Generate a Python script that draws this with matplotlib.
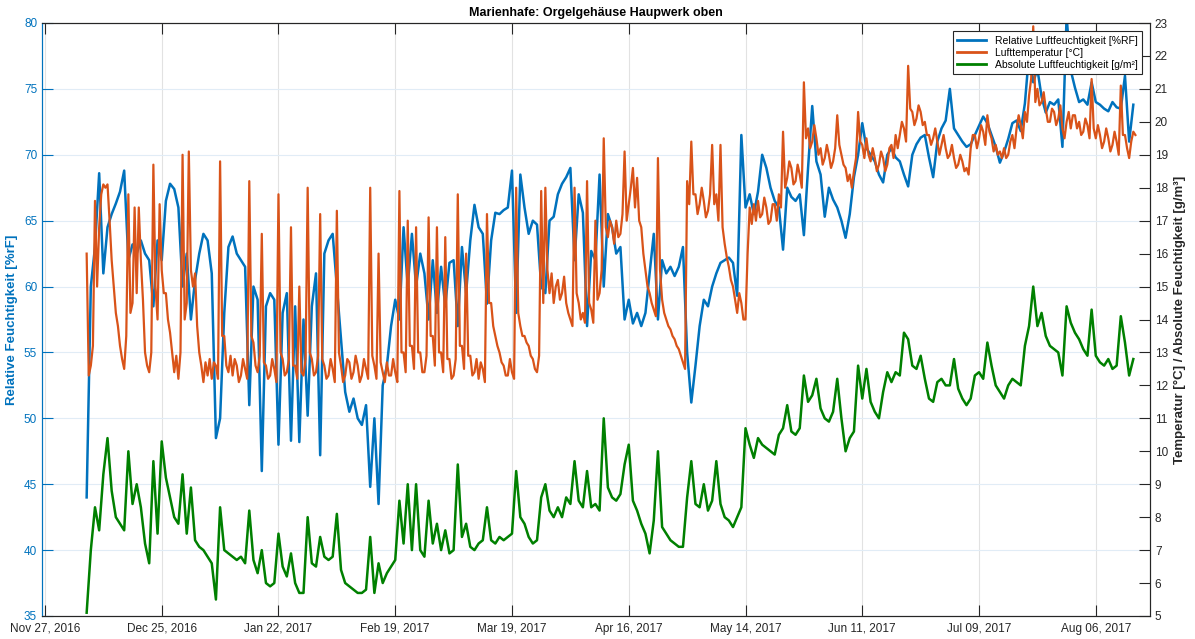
import pandas as pd
import matplotlib
matplotlib.use("Agg")
import matplotlib.pyplot as plt
import matplotlib.dates as mdates
from matplotlib.lines import Line2D

plt.rcParams['font.family'] = ['Liberation Sans', 'DejaVu Sans']

# first reading
start_date = "2016-12-07"

# Relative Luftfeuchtigkeit [%RF], one value per day
rh_values = [
    44.0, 60.0, 63.0, 68.6, 61.0, 64.5, 65.5, 66.3, 67.2, 68.8,
    62.0, 63.2, 62.5, 63.5, 62.5, 62.0, 58.5, 63.5, 62.0, 66.5,
    67.8, 67.4, 66.0, 60.0, 62.5, 57.5, 60.5, 62.5, 64.0, 63.5,
    61.0, 48.5, 50.0, 58.0, 63.0, 63.8, 62.5, 62.0, 61.5, 51.0,
    60.0, 59.0, 46.0, 58.5, 59.5, 59.0, 48.0, 58.0, 59.5, 48.3,
    58.5, 48.2, 57.5, 50.2, 58.5, 61.0, 47.2, 62.5, 63.5, 64.0,
    60.0, 56.0, 52.0, 50.5, 51.5, 50.0, 49.5, 51.0, 44.8, 50.0,
    43.5, 52.5, 54.0, 57.0, 59.0, 57.5, 64.5, 60.0, 64.0, 60.0,
    62.5, 61.0, 57.5, 62.0, 58.0, 61.5, 58.5, 61.8, 62.0, 57.0,
    63.0, 59.5, 63.5, 66.2, 64.5, 64.0, 58.7, 63.5, 65.6, 65.5,
    65.8, 66.0, 68.8, 58.0, 68.5, 66.0, 64.0, 65.0, 64.7, 60.0,
    59.5, 65.0, 65.3, 67.0, 67.8, 68.3, 69.0, 62.0, 67.0, 65.6,
    57.0, 62.7, 62.0, 68.5, 60.0, 65.5, 64.5, 62.5, 63.0, 57.5,
    59.0, 57.2, 58.0, 57.0, 58.0, 61.0, 64.0, 57.5, 62.0, 61.0,
    61.5, 60.8, 61.5, 63.0, 55.0, 51.2, 54.0, 57.0, 59.0, 58.5,
    60.0, 61.0, 61.8, 62.0, 62.2, 61.8, 59.3, 71.5, 66.0, 67.0,
    65.5, 67.2, 70.0, 69.0, 67.5, 66.5, 66.0, 62.8, 67.5, 66.8,
    66.5, 67.0, 63.9, 69.0, 73.7, 69.5, 68.5, 65.3, 67.5, 66.6,
    66.0, 65.0, 63.7, 65.5, 68.3, 70.0, 72.4, 70.5, 70.0, 69.5,
    68.5, 67.9, 70.0, 70.5, 69.8, 69.5, 68.5, 67.6, 70.0, 70.8,
    71.3, 71.5, 69.8, 68.3, 71.0, 72.0, 72.6, 75.0, 72.0, 71.5,
    71.0, 70.6, 70.8, 71.5, 72.2, 72.9, 72.4, 71.5, 70.6, 69.4,
    70.2, 71.2, 72.4, 72.6, 71.8, 73.9, 77.7, 75.5, 76.5, 74.4,
    73.2, 74.0, 73.8, 74.2, 70.6, 80.5, 76.4, 75.1, 74.0, 74.2,
    73.8, 75.5, 74.0, 73.8, 73.5, 73.3, 74.0, 73.6, 73.5, 76.0,
    71.0, 73.8,
]

# Lufttemperatur [°C], two values per day (00:00, 12:00)
temp_values = [
    16.0, 12.3, 12.6, 13.2, 17.6, 15.0, 16.8, 17.8, 18.1, 18.0,
    18.1, 17.0, 15.8, 15.0, 14.2, 13.8, 13.2, 12.8, 12.5, 13.5,
    17.8, 14.2, 14.5, 17.4, 14.8, 17.4, 15.8, 14.6, 13.0, 12.6,
    12.4, 13.0, 18.7, 15.0, 14.0, 17.5, 15.5, 14.8, 14.8, 14.0,
    13.6, 13.0, 12.4, 12.9, 12.2, 13.0, 19.0, 14.0, 14.5, 19.1,
    15.5, 15.0, 15.4, 13.8, 13.0, 12.6, 12.1, 12.7, 12.3, 12.8,
    12.2, 12.7, 12.6, 12.2, 18.8, 13.5, 13.5, 12.6, 12.4, 12.9,
    12.3, 12.8, 12.6, 12.1, 12.3, 12.8, 12.5, 12.2, 18.2, 13.5,
    13.3, 12.6, 12.4, 12.9, 16.6, 12.7, 12.6, 12.2, 12.3, 12.8,
    12.5, 12.1, 17.8, 13.0, 12.8, 12.3, 12.4, 12.8, 16.8, 12.6,
    12.6, 12.2, 15.0, 12.4, 12.3, 12.8, 18.0, 13.0, 12.8, 12.3,
    12.4, 12.9, 17.2, 12.8, 12.6, 12.2, 12.3, 12.8, 12.5, 12.1,
    17.3, 13.0, 12.6, 12.1, 12.3, 12.8, 12.7, 12.2, 12.4, 12.9,
    12.6, 12.1, 12.3, 12.8, 12.5, 12.2, 18.0, 12.9, 12.6, 12.2,
    16.0, 12.7, 12.4, 12.1, 12.7, 12.3, 12.3, 12.8, 12.4, 12.1,
    17.9, 13.0, 13.0, 12.4, 17.0, 13.2, 13.2, 12.5, 16.8, 13.0,
    13.0, 12.4, 12.4, 12.9, 17.1, 13.5, 13.5, 12.6, 16.8, 13.0,
    13.0, 12.4, 16.5, 12.8, 12.8, 12.2, 12.3, 12.8, 17.8, 13.2,
    13.2, 12.5, 16.0, 12.9, 12.9, 12.3, 12.4, 12.8, 12.2, 12.7,
    12.5, 12.1, 17.2, 14.5, 14.5, 13.8, 13.5, 13.2, 13.0, 12.7,
    12.6, 12.3, 12.3, 12.8, 12.4, 12.2, 18.0, 14.2, 13.8, 13.5,
    13.5, 13.3, 13.2, 12.9, 12.8, 12.5, 12.4, 12.9, 17.9, 14.5,
    18.0, 15.5, 14.8, 15.4, 14.5, 15.0, 15.2, 14.6, 14.8, 15.3,
    14.5, 14.2, 14.0, 13.8, 18.0, 14.8, 14.5, 14.0, 14.2, 13.9,
    18.2, 14.5, 14.3, 13.9, 17.0, 14.6, 14.8, 15.5, 19.5, 16.8,
    16.5, 17.0, 16.8, 16.3, 17.0, 16.5, 16.6, 17.2, 19.1, 17.0,
    17.5, 18.0, 18.6, 17.4, 18.3, 17.0, 16.8, 16.0, 15.5, 15.0,
    14.8, 14.5, 14.3, 14.1, 18.9, 15.5, 14.6, 14.2, 14.0, 13.8,
    13.7, 13.5, 13.4, 13.2, 13.1, 12.9, 12.7, 12.5, 18.2, 17.5,
    19.4, 17.8, 17.8, 17.2, 17.5, 18.0, 17.6, 17.1, 17.3, 17.8,
    19.3, 17.5, 17.8, 17.0, 19.3, 16.8, 16.3, 15.9, 15.6, 15.2,
    15.0, 14.6, 14.2, 14.8, 14.5, 14.0, 14.0, 16.0, 17.4, 16.9,
    17.5, 17.0, 17.6, 17.1, 17.2, 17.7, 17.4, 16.9, 17.0, 17.5,
    17.5, 17.0, 17.8, 17.4, 19.7, 18.0, 18.3, 18.8, 18.6, 18.1,
    18.2, 18.7, 18.4, 18.0, 21.2, 19.5, 19.8, 19.2, 19.4, 19.9,
    19.5, 19.0, 19.2, 18.7, 18.9, 19.3, 19.0, 18.6, 18.8, 19.2,
    20.2, 19.3, 19.0, 18.7, 18.6, 18.2, 18.4, 18.0, 18.5, 18.9,
    20.3, 19.4, 19.3, 18.9, 19.5, 19.0, 18.8, 19.2, 18.9, 18.5,
    18.7, 19.1, 18.9, 18.5, 18.7, 19.2, 19.3, 18.9, 19.6, 19.2,
    19.6, 20.0, 19.8, 19.4, 21.7, 20.4, 20.3, 19.9, 20.1, 20.5,
    20.3, 19.9, 20.0, 19.6, 19.6, 19.3, 19.5, 19.8, 19.4, 19.0,
    19.3, 19.6, 19.2, 18.9, 19.0, 19.3, 18.9, 18.6, 18.7, 19.0,
    18.8, 18.5, 18.6, 18.4, 19.2, 19.6, 19.6, 19.2, 19.5, 19.9,
    19.7, 19.3, 20.2, 19.7, 19.5, 19.1, 19.3, 19.0, 19.1, 18.9,
    19.2, 18.9, 19.0, 19.4, 19.6, 19.2, 19.8, 20.2, 19.9, 19.5,
    20.3, 20.0, 20.8, 21.3, 22.9, 20.6, 21.0, 20.5, 20.6, 20.9,
    20.4, 20.0, 20.0, 20.4, 20.3, 19.9, 20.1, 20.5, 19.8, 19.5,
    20.0, 20.3, 19.8, 20.2, 20.2, 19.8, 20.0, 19.6, 19.7, 20.1,
    19.9, 19.5, 21.3, 19.8, 19.5, 19.9, 19.6, 19.2, 19.4, 19.8,
    19.5, 19.1, 19.3, 19.7, 19.4, 19.0, 21.1, 19.6, 19.6, 19.2,
    18.9, 19.4, 19.7, 19.6,
]

# Absolute Luftfeuchtigkeit [g/m3], one value per day
ah_values = [
    5.1, 7.0, 8.3, 7.6, 9.3, 10.4, 8.8, 8.0, 7.8, 7.6,
    10.0, 8.4, 9.0, 8.3, 7.2, 6.6, 9.7, 7.5, 10.3, 9.2,
    8.6, 8.0, 7.8, 9.3, 7.5, 8.9, 7.3, 7.1, 7.0, 6.8,
    6.6, 5.5, 8.3, 7.0, 6.9, 6.8, 6.7, 6.8, 6.6, 8.2,
    6.7, 6.3, 7.0, 6.0, 5.9, 6.0, 7.5, 6.5, 6.2, 6.9,
    6.0, 5.7, 5.7, 8.0, 6.6, 6.5, 7.4, 6.8, 6.7, 6.8,
    8.1, 6.4, 6.0, 5.9, 5.8, 5.7, 5.7, 5.8, 7.4, 5.7,
    6.6, 6.0, 6.3, 6.5, 6.7, 8.5, 7.2, 9.0, 7.0, 9.0,
    7.0, 6.8, 8.5, 7.2, 7.8, 7.0, 7.6, 6.9, 7.0, 9.6,
    7.4, 7.8, 7.1, 7.0, 7.2, 7.3, 8.3, 7.3, 7.2, 7.4,
    7.3, 7.4, 7.5, 9.4, 8.0, 7.8, 7.4, 7.2, 7.3, 8.6,
    9.0, 8.2, 8.0, 8.3, 8.0, 8.6, 8.4, 9.7, 8.5, 8.3,
    9.4, 8.3, 8.4, 8.2, 11.0, 8.9, 8.6, 8.5, 8.7, 9.6,
    10.2, 8.5, 8.2, 7.8, 7.5, 6.9, 7.9, 10.0, 7.7, 7.5,
    7.3, 7.2, 7.1, 7.1, 8.6, 9.7, 8.4, 8.3, 9.0, 8.2,
    8.5, 9.7, 8.4, 8.0, 7.9, 7.7, 8.0, 8.3, 10.7, 10.2,
    9.8, 10.4, 10.2, 10.1, 10.0, 9.9, 10.5, 10.7, 11.4, 10.6,
    10.5, 10.7, 12.3, 11.5, 11.7, 12.2, 11.3, 11.0, 10.9, 11.2,
    12.2, 11.0, 10.0, 10.4, 10.6, 12.6, 11.6, 12.5, 11.5, 11.2,
    11.0, 11.8, 12.4, 12.1, 12.4, 12.3, 13.6, 13.4, 12.6, 12.5,
    12.9, 12.2, 11.6, 11.5, 12.1, 12.2, 12.0, 12.0, 12.8, 11.9,
    11.6, 11.4, 11.6, 12.3, 12.4, 12.2, 13.3, 12.6, 12.0, 11.8,
    11.6, 12.0, 12.2, 12.1, 12.0, 13.2, 13.8, 15.0, 13.8, 14.2,
    13.5, 13.2, 13.1, 13.0, 12.3, 14.4, 13.9, 13.6, 13.4, 13.1,
    12.9, 14.3, 12.9, 12.7, 12.6, 12.8, 12.5, 12.6, 14.1, 13.3,
    12.3, 12.8,
]

series_labels = ["Relative Luftfeuchtigkeit [%RF]", "Lufttemperatur [°C]",
                 "Absolute Luftfeuchtigkeit [g/m²]"]
tick_dates = pd.date_range("2016-11-27", "2017-08-06", freq="28D")

days = pd.date_range(start_date, periods=len(rh_values), freq="D")
half_days = pd.date_range(start_date, periods=len(temp_values), freq="12h")

blue = "#0072BD"
orange = "#D95319"
green = "#008000"
dark = "#262626"

fig = plt.figure(figsize=(11.95, 6.39), dpi=100)
ax = fig.add_axes([42 / 1195, 23 / 639, 1108 / 1195, 593 / 639])
ax2 = ax.twinx()

ax.plot(days, rh_values, color=blue, lw=1.8)
ax2.plot(half_days, temp_values, color=orange, lw=1.6)
ax2.plot(days, ah_values, color=green, lw=1.8)

ax.set_xlim(pd.Timestamp("2016-11-26 07:00"), pd.Timestamp("2017-08-19"))
ax.set_ylim(35, 80)
ax2.set_ylim(5, 23)
ax.set_yticks(range(35, 81, 5))
ax2.set_yticks(range(5, 24))
ax.set_xticks(tick_dates)
ax.xaxis.set_major_formatter(mdates.DateFormatter("%b %d, %Y"))

ax.set_axisbelow(True)
ax.grid(axis="x", color="#e2e2e2", lw=0.8)
ax.grid(axis="y", color="#e1ecf6", lw=0.8)

ax.tick_params(axis="x", direction="in", top=True, length=8, colors=dark,
               labelsize=8.5, pad=5)
ax.tick_params(axis="y", direction="in", length=8, colors=blue, labelsize=8.5)
ax2.tick_params(axis="y", direction="in", length=8, colors=dark, labelsize=8.5)
for a in (ax, ax2):
    for side in ("top", "bottom", "right"):
        a.spines[side].set_color(dark)
    a.spines["left"].set_color(blue)

ax.set_ylabel("Relative Feuchtigkeit [%rF]", color=blue, fontweight="bold",
              fontsize=9.5)
ax2.set_ylabel("Temperatur [°C] / Absolute Feuchtigkeit [g/m³]", color=dark,
               fontweight="bold", fontsize=9.5)
ax.set_title("Marienhafe: Orgelgehäuse Haupwerk oben", fontweight="bold",
             fontsize=9, color="black", pad=5)

handles = [Line2D([], [], color=c, lw=2) for c in (blue, orange, green)]
leg = ax2.legend(handles, series_labels, loc="upper right", fontsize=7.5,
                 fancybox=False, edgecolor=dark, framealpha=1,
                 handlelength=2.8, borderaxespad=0.8, labelspacing=0.2)
leg.get_frame().set_linewidth(0.8)

fig.savefig("out.png", dpi=100)
